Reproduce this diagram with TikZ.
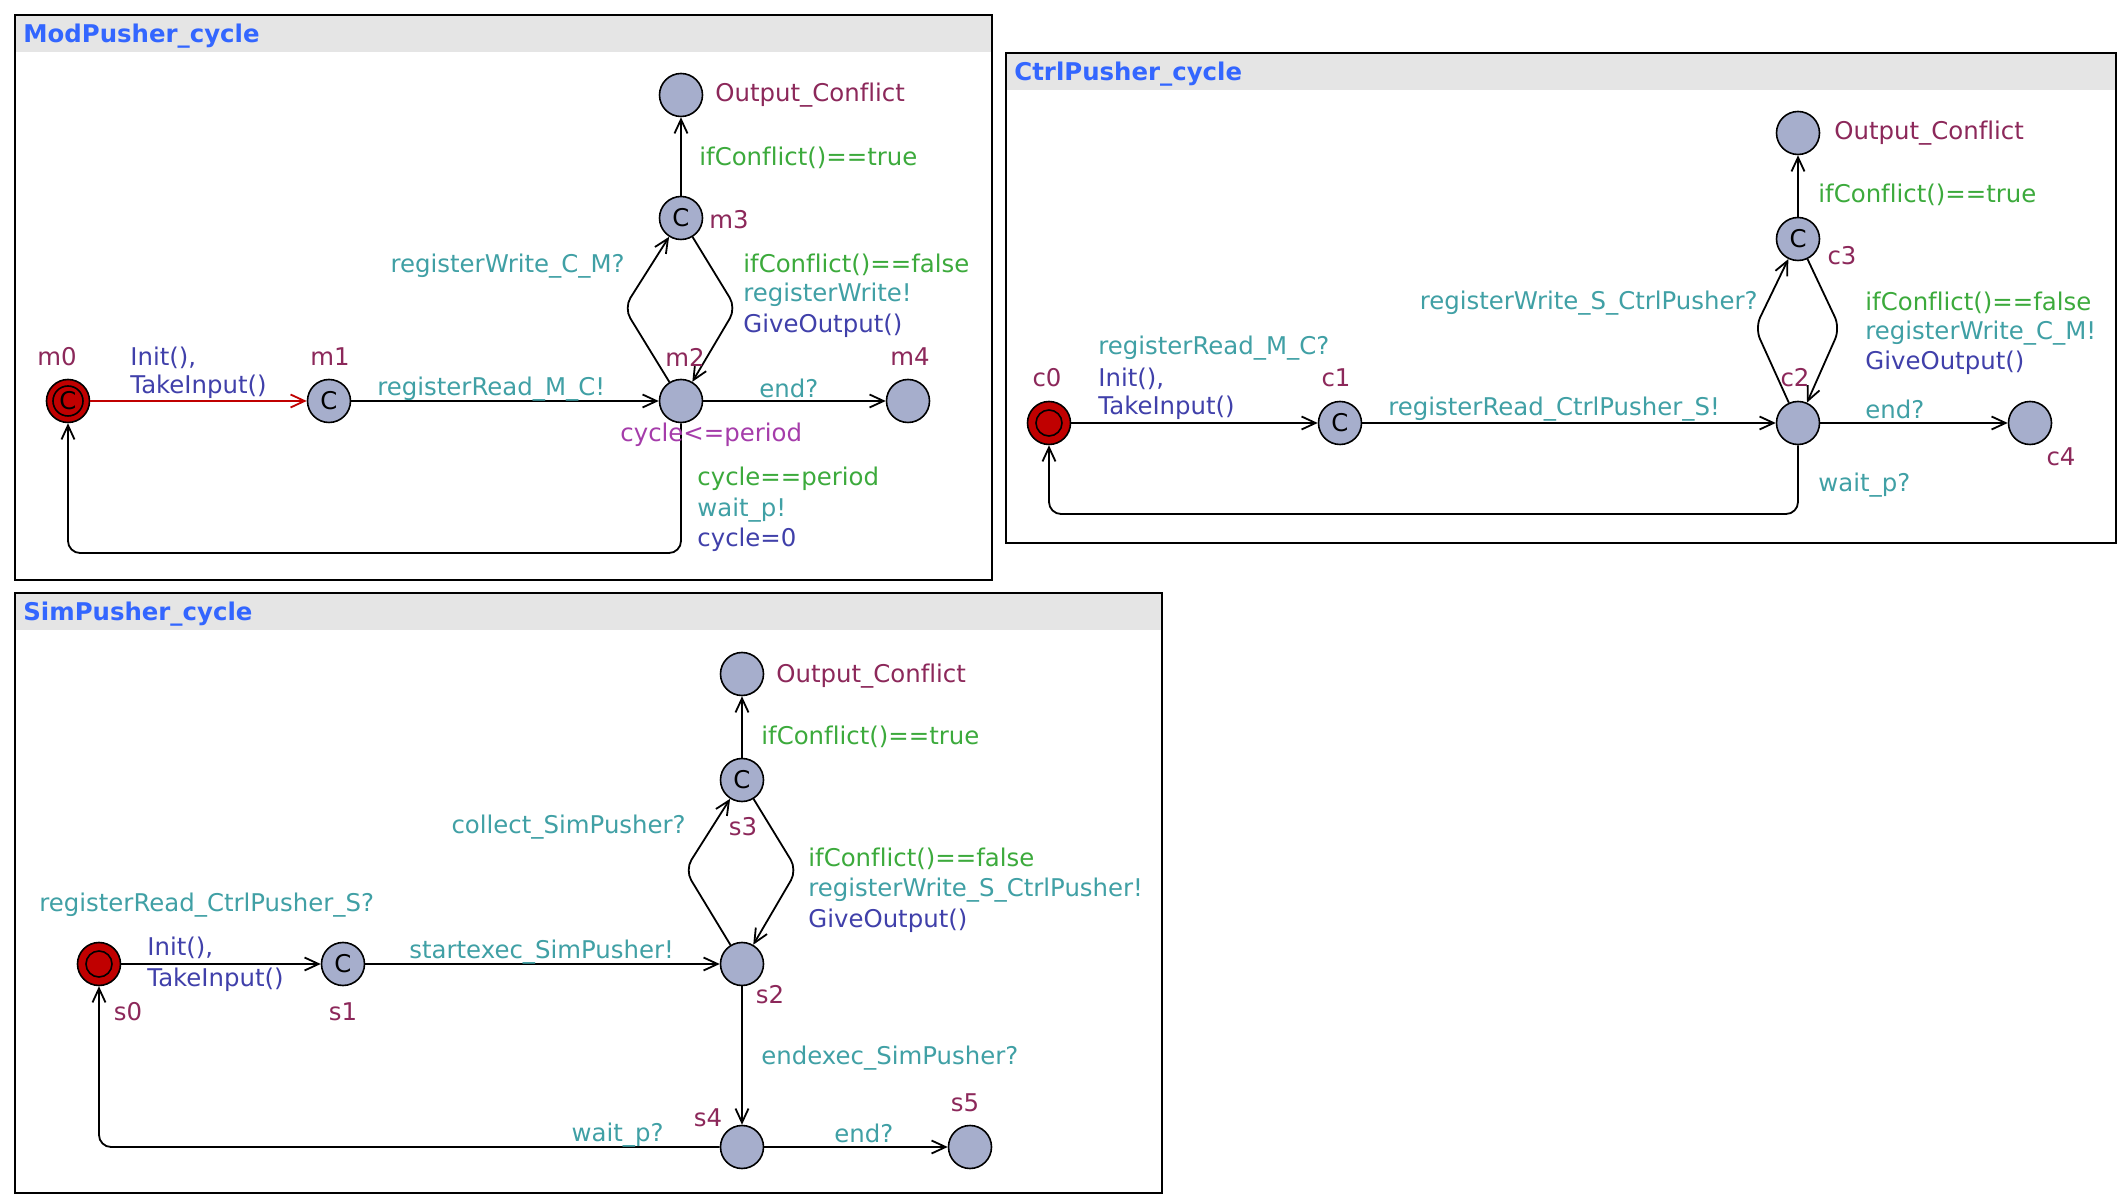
\documentclass[tikz,border=0pt]{standalone}
\usepackage{fontspec}
\setmainfont[Ligatures=NoCommon]{DejaVu Sans}
\usetikzlibrary{arrows.meta}

\definecolor{locfill}{RGB}{166,174,204}
\definecolor{initred}{RGB}{192,0,0}
\definecolor{namecol}{RGB}{140,40,90}
\definecolor{synccol}{RGB}{64,160,165}
\definecolor{guardcol}{RGB}{60,170,60}
\definecolor{updcol}{RGB}{64,64,170}
\definecolor{invcol}{RGB}{165,60,170}
\definecolor{titlecol}{RGB}{51,102,255}
\definecolor{headgray}{RGB}{229,229,229}

\begin{document}
\begin{tikzpicture}[x=0.5pt,y=-0.5pt,
  every node/.style={font=\fontsize{12.2}{14}\selectfont},
  loc/.style={circle,draw,line width=0.8pt,fill=locfill,minimum size=21.5pt,inner sep=0pt},
  initloc/.style={loc,fill=initred,path picture={\draw[line width=0.8pt] (path picture bounding box.center) circle (#1);}},
  initloc/.default=6.5pt,
  trans/.style={line width=0.9pt,-{Straight Barb[length=7pt,width=6.5pt]},rounded corners=6pt},
  nm/.style={inner sep=0pt,text=namecol},
  sync/.style={inner sep=0pt,anchor=west,text=synccol},
  guard/.style={inner sep=0pt,anchor=west,text=guardcol},
  upd/.style={inner sep=0pt,anchor=west,text=updcol},
  inv/.style={inner sep=0pt,anchor=west,text=invcol}]
\useasboundingbox (0,0) rectangle (2126,1202);
\fill[white] (0,0) rectangle (2126,1202);

% the three templates
\foreach \xa/\ya/\xb/\yb/\hb/\ttl/\k in {15/15/992/580/52/ModPusher\_cycle/1,
    1006/53/2116/543/90/CtrlPusher\_cycle/2, 15/593/1162/1193/630/SimPusher\_cycle/3} {
\fill[headgray] (\xa,\ya) rectangle (\xb,\hb);
\draw[line width=0.9pt] (\xa,\ya) rectangle (\xb,\yb);
\node[inner sep=0pt,anchor=base west,text=titlecol,font=\fontsize{12.2}{14}\selectfont\bfseries] (title\k) at ({\xa+8},{\hb-9}) {\ttl};
}

% ModPusher_cycle
\node[initloc=7.5pt] (m0) at (68,401) {C};
\node[loc] (m1) at (329,401) {C};
\node[loc] (m2) at (681,401) {};
\node[loc] (m3) at (681,218) {C};
\node[loc] (moc) at (681,95) {};
\node[loc] (m4) at (908,401) {};
\coordinate (mnl) at (624,308);
\coordinate (mnr) at (736,308);
\coordinate (mb1) at (681,553);
\coordinate (mb2) at (68,553);
\draw[trans,initred] (m0) -- (m1);
\draw[trans] (m1) -- (m2);
\draw[trans] (m2) -- (mnl) -- (m3);
\draw[trans] (m3) -- (mnr) -- (m2);
\draw[trans] (m3) -- (moc);
\draw[trans] (m2) -- (m4);
\draw[trans] (m2) -- (mb1) -- (mb2) -- (m0);
\node[nm] (nm0) at (57,357) {m0};
\node[nm] (nm1) at (330,357) {m1};
\node[nm] (nm2) at (685,357) {m2};
\node[nm] (nm3) at (729,220) {m3};
\node[nm] (nm4) at (910,357) {m4};
\node[nm,anchor=west] (nmoc) at (715,95) {Output\_Conflict};
\node[upd] (um0a) at (130,358) {Init(),};
\node[upd] (um0b) at (130,387) {TakeInput()};
\node[sync] (sm1) at (377,389) {registerRead\_M\_C!};
\node[sync] (sm2) at (759,388) {end?};
\node[inv] (im2) at (620,435) {cycle<=period};
\node[guard] (gm2) at (697,479) {cycle==period};
\node[sync] (sm2b) at (697,510) {wait\_p!};
\node[upd] (um2) at (697,540) {cycle=0};
\node[sync,anchor=east] (sm2c) at (625,266) {registerWrite\_C\_M?};
\node[guard] (gm3) at (743,265) {ifConflict()==false};
\node[sync] (sm3) at (743,295) {registerWrite!};
\node[upd] (um3) at (743,326) {GiveOutput()};
\node[guard] (gm3b) at (699,158) {ifConflict()==true};

% CtrlPusher_cycle
\node[initloc] (c0) at (1049,423) {};
\node[loc] (c1) at (1340,423) {C};
\node[loc] (c2) at (1798,423) {};
\node[loc] (c3) at (1798,239) {C};
\node[loc] (coc) at (1798,133) {};
\node[loc] (c4) at (2030,423) {};
\coordinate (cnl) at (1755,328);
\coordinate (cnr) at (1840,328);
\coordinate (cb1) at (1798,514);
\coordinate (cb2) at (1049,514);
\draw[trans] (c0) -- (c1);
\draw[trans] (c1) -- (c2);
\draw[trans] (c2) -- (cnl) -- (c3);
\draw[trans] (c3) -- (cnr) -- (c2);
\draw[trans] (c3) -- (coc);
\draw[trans] (c2) -- (c4);
\draw[trans] (c2) -- (cb1) -- (cb2) -- (c0);
\node[nm] (nc0) at (1047,378) {c0};
\node[nm] (nc1) at (1336,378) {c1};
\node[nm] (nc2) at (1795,378) {c2};
\node[nm] (nc3) at (1842,256) {c3};
\node[nm] (nc4) at (2061,457) {c4};
\node[nm,anchor=west] (ncoc) at (1834,133) {Output\_Conflict};
\node[sync] (sc0) at (1098,348) {registerRead\_M\_C?};
\node[upd] (uc0a) at (1098,379) {Init(),};
\node[upd] (uc0b) at (1098,408) {TakeInput()};
\node[sync] (sc1) at (1388,409) {registerRead\_CtrlPusher\_S!};
\node[sync] (sc2) at (1865,409) {end?};
\node[sync] (sc2b) at (1818,485) {wait\_p?};
\node[sync,anchor=east] (sc2c) at (1758,303) {registerWrite\_S\_CtrlPusher?};
\node[guard] (gc3) at (1865,303) {ifConflict()==false};
\node[sync] (sc3) at (1865,333) {registerWrite\_C\_M!};
\node[upd] (uc3) at (1865,363) {GiveOutput()};
\node[guard] (gc3b) at (1818,195) {ifConflict()==true};

% SimPusher_cycle
\node[initloc] (s0) at (99,964) {};
\node[loc] (s1) at (343,964) {C};
\node[loc] (s2) at (742,964) {};
\node[loc] (s3) at (742,780) {C};
\node[loc] (soc) at (742,674) {};
\node[loc] (s4) at (742,1147) {};
\node[loc] (s5) at (970,1147) {};
\coordinate (snl) at (685,870);
\coordinate (snr) at (797,870);
\coordinate (sb1) at (99,1147);
\draw[trans] (s0) -- (s1);
\draw[trans] (s1) -- (s2);
\draw[trans] (s2) -- (snl) -- (s3);
\draw[trans] (s3) -- (snr) -- (s2);
\draw[trans] (s3) -- (soc);
\draw[trans] (s2) -- (s4);
\draw[trans] (s4) -- (s5);
\draw[trans] (s4) -- (sb1) -- (s0);
\node[nm] (ns0) at (128,1012) {s0};
\node[nm] (ns1) at (343,1012) {s1};
\node[nm] (ns2) at (770,995) {s2};
\node[nm] (ns3) at (743,827) {s3};
\node[nm] (ns4) at (708,1118) {s4};
\node[nm] (ns5) at (965,1103) {s5};
\node[nm,anchor=west] (nsoc) at (776,676) {Output\_Conflict};
\node[sync] (ss0) at (39,905) {registerRead\_CtrlPusher\_S?};
\node[upd] (us0a) at (147,948) {Init(),};
\node[upd] (us0b) at (147,980) {TakeInput()};
\node[sync] (ss1) at (409,952) {startexec\_SimPusher!};
\node[sync] (ss2) at (761,1058) {endexec\_SimPusher?};
\node[sync,anchor=east] (ss4) at (664,1135) {wait\_p?};
\node[sync] (ss4b) at (834,1133) {end?};
\node[sync,anchor=east] (ss3) at (686,827) {collect\_SimPusher?};
\node[guard] (gs3) at (808,859) {ifConflict()==false};
\node[sync] (ss3b) at (808,890) {registerWrite\_S\_CtrlPusher!};
\node[upd] (us3) at (808,921) {GiveOutput()};
\node[guard] (gs3b) at (761,737) {ifConflict()==true};
\end{tikzpicture}
\end{document}
